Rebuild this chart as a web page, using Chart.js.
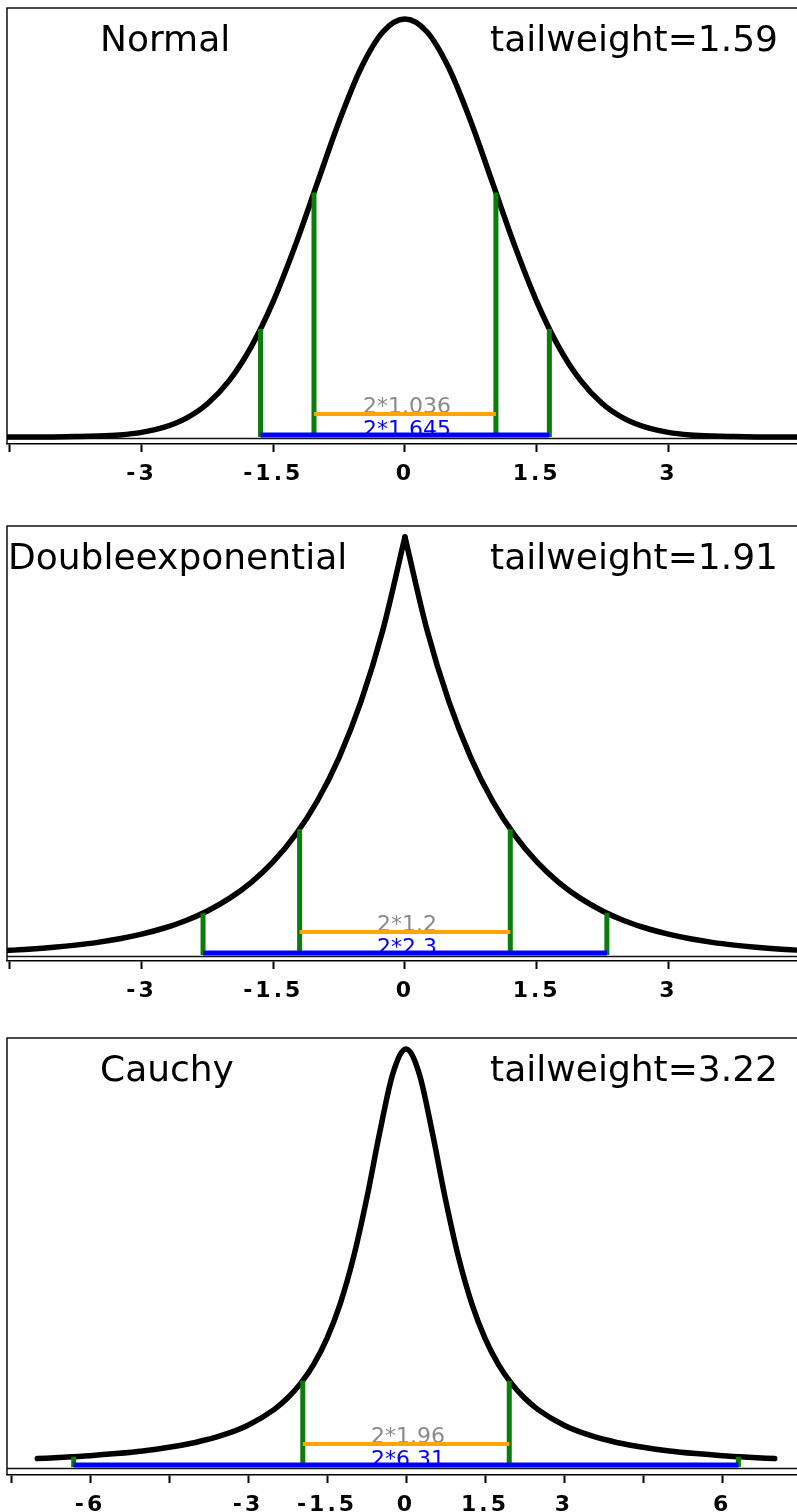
<!DOCTYPE html>
<html><head><meta charset="utf-8">
<script src="https://cdn.jsdelivr.net/npm/chart.js@4/dist/chart.umd.min.js"></script>
<style>
html,body{margin:0;padding:0;background:#fff;overflow:hidden;width:797px;height:1512px;position:relative;}
canvas.p{position:absolute;left:0;}
</style></head><body>
<canvas id="c1" class="p" style="top:0px" width="810" height="490"></canvas>
<canvas id="c2" class="p" style="top:518px" width="810" height="490"></canvas>
<canvas id="c3" class="p" style="top:1030px" width="810" height="490"></canvas>
<script>
// ---------- data ----------
const normalX = [-4.75,-4.5,-4.25,-4,-3.75,-3.5,-3.25,-3,-2.75,-2.5,-2.25,-2,-1.75,-1.5,-1.25,-1,-0.75,-0.5,-0.25,0,0.25,0.5,0.75,1,1.25,1.5,1.75,2,2.25,2.5,2.75,3,3.25,3.5,3.75,4,4.25,4.5,4.75];
const normalY = [0.0000,0.0000,0.0000,0.0001,0.0004,0.0009,0.0020,0.0044,0.0091,0.0175,0.0317,0.0540,0.0863,0.1295,0.1826,0.2420,0.3011,0.3521,0.3867,0.3989,0.3867,0.3521,0.3011,0.2420,0.1826,0.1295,0.0863,0.0540,0.0317,0.0175,0.0091,0.0044,0.0020,0.0009,0.0004,0.0001,0.0000,0.0000,0.0000];

const laplaceX = [-4.75,-4.5,-4.25,-4,-3.75,-3.5,-3.25,-3,-2.75,-2.5,-2.25,-2,-1.75,-1.5,-1.25,-1,-0.75,-0.5,-0.25,0,0.25,0.5,0.75,1,1.25,1.5,1.75,2,2.25,2.5,2.75,3,3.25,3.5,3.75,4,4.25,4.5,4.75];
const laplaceY = [0.0043,0.0056,0.0071,0.0092,0.0118,0.0151,0.0194,0.0249,0.0320,0.0410,0.0527,0.0677,0.0869,0.1116,0.1433,0.1839,0.2362,0.3033,0.3894,0.5000,0.3894,0.3033,0.2362,0.1839,0.1433,0.1116,0.0869,0.0677,0.0527,0.0410,0.0320,0.0249,0.0194,0.0151,0.0118,0.0092,0.0071,0.0056,0.0043];

const cauchyX = [-7,-6.5,-6,-5.5,-5,-4.5,-4,-3.5,-3,-2.5,-2.25,-2,-1.75,-1.5,-1.25,-1,-0.75,-0.5,-0.25,0,0.25,0.5,0.75,1,1.25,1.5,1.75,2,2.25,2.5,3,3.5,4,4.5,5,5.5,6,6.5,7];
const cauchyY = [0.0064,0.0074,0.0086,0.0102,0.0122,0.0150,0.0187,0.0240,0.0318,0.0439,0.0525,0.0637,0.0784,0.0979,0.1242,0.1592,0.2037,0.2546,0.2996,0.3183,0.2996,0.2546,0.2037,0.1592,0.1242,0.0979,0.0784,0.0637,0.0525,0.0439,0.0318,0.0240,0.0187,0.0150,0.0122,0.0102,0.0086,0.0074,0.0064];

// quantiles: [inner (85%), outer (95%)] and the curve height there
const normalQ = [1.036, 1.645];
const normalQY = [0.2333, 0.1031];
const laplaceQ = [1.2, 2.3];
const laplaceQY = [0.1506, 0.0501];
const cauchyQ = [1.96, 6.31];
const cauchyQY = [0.0657, 0.0078];

const names = ['Normal', 'Doubleexponential', 'Cauchy'];
const tailLabels = ['tailweight=1.59', 'tailweight=1.91', 'tailweight=3.22'];
const innerLabels = ['2*1.036', '2*1.2', '2*1.96'];
const outerLabels = ['2*1.645', '2*2.3', '2*6.31'];

const ticks12 = [-4.5, -3, -1.5, 0, 1.5, 3, 4.5];
const tickLabels12 = ['', '-3', '-1.5', '0', '1.5', '3', ''];
const ticks3 = [-7.5, -6, -4.5, -3, -1.5, 0, 1.5, 3, 4.5, 6, 7.5];
const tickLabels3 = ['', '-6', '', '-3', '-1.5', '0', '1.5', '3', '', '6', ''];

// ---------- drawing ----------
const GEOM = {top: 8, base: 437, peakPx: 418};

function makePanel(id, cfg) {
  const peak = Math.max(...cfg.y);
  const ppu = GEOM.peakPx / peak;
  const yMax = (GEOM.base - GEOM.top) / ppu;
  const yMin = -(cfg.areaBottom - GEOM.base) / ppu;
  const orangeLev = 23 / ppu;
  const blueLev = 2 / ppu;

  const pts = cfg.x.map((v, i) => ({x: v, y: cfg.y[i]}));
  const curveStyle = {borderColor: '#000', borderWidth: 5.5, pointRadius: 0, fill: false,
    cubicInterpolationMode: 'monotone', borderJoinStyle: 'round', borderCapStyle: 'round', order: 5};
  const datasets = [];
  if (cfg.cusp) {
    const k = cfg.x.indexOf(0);
    datasets.push(Object.assign({data: pts.slice(0, k + 1)}, curveStyle));
    datasets.push(Object.assign({data: pts.slice(k)}, curveStyle));
  } else {
    datasets.push(Object.assign({data: pts}, curveStyle));
  }
  cfg.q.forEach((q, j) => {
    [-1, 1].forEach(s => {
      datasets.push({data: [{x: s * q, y: 0}, {x: s * q, y: cfg.qy[j]}],
        borderColor: '#0a7d0a', borderWidth: 5, pointRadius: 0, borderCapStyle: 'butt', order: 4});
    });
  });
  datasets.push({data: [{x: -cfg.q[0], y: orangeLev}, {x: cfg.q[0], y: orangeLev}],
    borderColor: '#FFA500', borderWidth: 4, pointRadius: 0, borderCapStyle: 'butt', order: 2});
  datasets.push({data: [{x: -cfg.q[1], y: blueLev}, {x: cfg.q[1], y: blueLev}],
    borderColor: '#0000FF', borderWidth: 5, pointRadius: 0, borderCapStyle: 'butt', order: 1});

  const deco = {
    id: 'deco',
    beforeDraw(chart) { chart.ctx.letterSpacing = '3px'; },
    beforeDatasetsDraw(chart) {
      const ctx = chart.ctx, a = chart.chartArea, xs = chart.scales.x, ys = chart.scales.y;
      ctx.save();
      ctx.letterSpacing = '0px';
      // frame
      ctx.strokeStyle = '#111'; ctx.lineWidth = 1.5;
      const yb = Math.round(ys.getPixelForValue(0)) + 1.5;
      ctx.beginPath();
      ctx.moveTo(a.left, a.bottom); ctx.lineTo(a.left, a.top); ctx.lineTo(a.right + 20, a.top);
      ctx.moveTo(a.left, yb); ctx.lineTo(a.right + 20, yb);
      ctx.stroke();
      // titles
      ctx.fillStyle = '#000';
      ctx.font = '36px "DejaVu Sans"';
      ctx.textBaseline = 'alphabetic';
      ctx.textAlign = 'left';
      ctx.fillText(cfg.name, cfg.nameX, a.top + 43);
      ctx.textAlign = 'right';
      ctx.fillText(cfg.tail, 778, a.top + 43);
      // interval labels
      ctx.font = '22px "DejaVu Sans"';
      ctx.textAlign = 'center';
      const cx = xs.getPixelForValue(0) + 2;
      ctx.fillStyle = '#8a8a8a';
      ctx.fillText(cfg.inner, cx, ys.getPixelForValue(orangeLev) - 1);
      ctx.fillStyle = '#0000FF';
      ctx.fillText(cfg.outer, cx, ys.getPixelForValue(blueLev) + 0.5);
      ctx.restore();
    }
  };

  return new Chart(document.getElementById(id), {
    type: 'line',
    data: {datasets},
    options: {
      responsive: false, animation: false, devicePixelRatio: 1, events: [],
      layout: {padding: {left: 7, right: 10, top: GEOM.top, bottom: 0}},
      plugins: {legend: {display: false}, tooltip: {enabled: false}},
      scales: {
        x: {
          type: 'linear', min: cfg.min, max: cfg.max,
          afterBuildTicks: s => { s.ticks = cfg.ticks.map(v => ({value: v})); },
          afterFit: s => { s.height = 490 - cfg.areaBottom; },
          ticks: {autoSkip: false, maxRotation: 0, minRotation: 0, padding: 9, color: '#000',
            font: {family: '"DejaVu Sans"', weight: 'bold', size: 22},
            callback: (v, i) => cfg.tickLabels[i]},
          grid: {drawOnChartArea: false, drawTicks: true, tickLength: 8, tickWidth: 2, tickColor: '#000'},
          border: {display: true, color: '#000', width: 1.5}
        },
        y: {type: 'linear', display: false, min: yMin, max: yMax}
      }
    },
    plugins: [deco]
  });
}

makePanel('c1', {x: normalX, y: normalY, q: normalQ, qy: normalQY, cusp: false,
  name: names[0], nameX: 100, tail: tailLabels[0], inner: innerLabels[0], outer: outerLabels[0],
  ticks: ticks12, tickLabels: tickLabels12, min: -4.533, max: 4.5, areaBottom: 444});
makePanel('c2', {x: laplaceX, y: laplaceY, q: laplaceQ, qy: laplaceQY, cusp: true,
  name: names[1], nameX: 8, tail: tailLabels[1], inner: innerLabels[1], outer: outerLabels[1],
  ticks: ticks12, tickLabels: tickLabels12, min: -4.533, max: 4.5, areaBottom: 443});
makePanel('c3', {x: cauchyX, y: cauchyY, q: cauchyQ, qy: cauchyQY, cusp: false,
  name: names[2], nameX: 100, tail: tailLabels[2], inner: innerLabels[2], outer: outerLabels[2],
  ticks: ticks3, tickLabels: tickLabels3, min: -7.576, max: 7.443, areaBottom: 445});
</script>
</body></html>
